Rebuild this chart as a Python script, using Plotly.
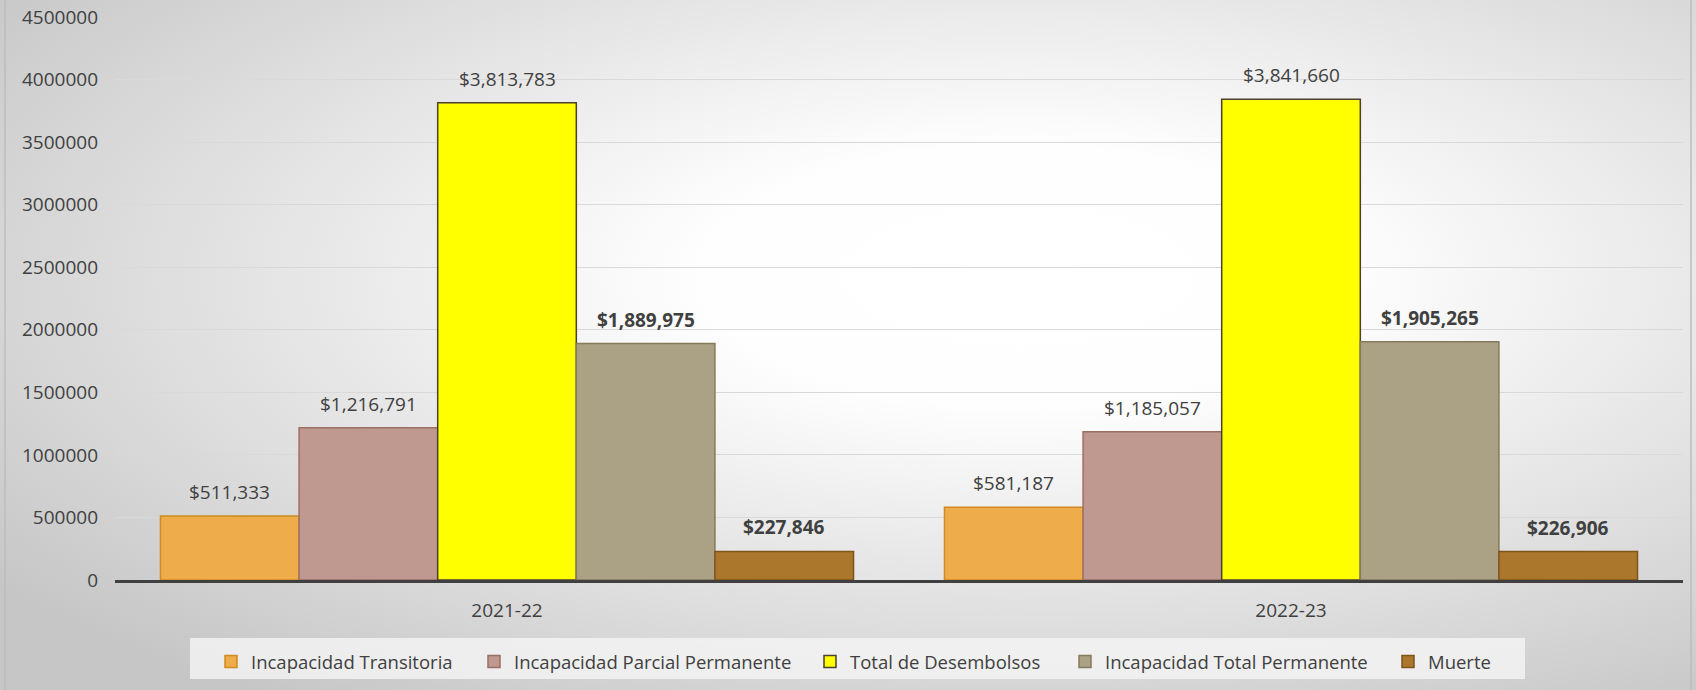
import base64
import plotly.graph_objects as go

categories = ["2021-22", "2022-23"]
series_names = [
    "Incapacidad Transitoria",
    "Incapacidad Parcial Permanente",
    "Total de Desembolsos",
    "Incapacidad Total Permanente",
    "Muerte",
]
transitoria = [511333, 581187]
parcial = [1216791, 1185057]
total_desembolsos = [3813783, 3841660]
total_permanente = [1889975, 1905265]
muerte = [227846, 226906]
y_ticks = [0, 500000, 1000000, 1500000, 2000000, 2500000, 3000000, 3500000, 4000000, 4500000]

series_values = [transitoria, parcial, total_desembolsos, total_permanente, muerte]
fills = ["#EEAC4A", "#BF9990", "#FFFF00", "#ABA286", "#AB772C"]
borders = ["#D08A22", "#9C6E64", "#4A3F30", "#857A5A", "#7F5418"]
bold = [False, False, False, True, True]
legend_text_x = [251, 514, 850, 1105, 1428]  # pixel x where each legend label starts

W, H = 1696, 690
ML, MR, MT, MB = 115, 13, 17, 110
PW, PH = W - ML - MR, H - MT - MB
BARGAP = 0.116
n = len(series_values)
bar_px = PW / len(categories) * (1 - BARGAP) / n

fig = go.Figure()
annotations = []
legends = {}
for i, (name, vals, fc, bc, b) in enumerate(zip(series_names, series_values, fills, borders, bold)):
    lid = "legend" if i == 0 else f"legend{i + 1}"
    fig.add_trace(go.Bar(
        x=categories, y=vals, name=name, legend=lid,
        marker=dict(color=fc, line=dict(color=bc, width=1.5)),
    ))
    legends[lid] = dict(
        orientation="h", xref="container", yref="container",
        x=(legend_text_x[i] - 40) / W, xanchor="left",
        y=1 - 662 / H, yanchor="middle",
        bgcolor="rgba(0,0,0,0)", font=dict(size=18.5, color="#404040"),
        itemwidth=30,
    )
    for c, v in zip(categories, vals):
        txt = ("<b>${:,.0f}</b>" if b else "${:,.0f}").format(v)
        annotations.append(dict(
            x=c, y=v, xref="x", yref="y", text=txt, showarrow=False,
            xanchor="center", yanchor="bottom", yshift=9,
            xshift=(i - (n - 1) / 2) * bar_px,
            font=dict(size=19, color="#404040", family="Open Sans"),
        ))

svg = (
    f'<svg xmlns="http://www.w3.org/2000/svg" width="{W}" height="{H}">'
    '<defs><radialGradient id="g" cx="0.6" cy="0.4" r="0.75">'
    '<stop offset="0" stop-color="#ffffff"/>'
    '<stop offset="0.25" stop-color="#fefefe"/>'
    '<stop offset="1" stop-color="#c6c6c6"/>'
    '</radialGradient></defs>'
    f'<rect x="0" y="0" width="{W}" height="{H}" fill="url(#g)"/>'
    f'<rect x="5" y="-2" width="{W-10}" height="{H+4}" fill="none" stroke="#bdbdbd" stroke-width="1.5"/>'
    '</svg>'
)
src = "data:image/svg+xml;base64," + base64.b64encode(svg.encode()).decode()

fig.update_layout(
    width=W, height=H,
    margin=dict(l=ML, r=MR, t=MT, b=MB, pad=0, autoexpand=False),
    barmode="group", bargap=BARGAP, bargroupgap=0,
    paper_bgcolor="#d9d9d9", plot_bgcolor="rgba(0,0,0,0)",
    font=dict(family="Open Sans", size=18, color="#404040"),
    showlegend=True,
    annotations=annotations,
    shapes=[dict(
        type="rect", xref="paper", yref="paper", layer="below",
        x0=(190 - ML) / PW, x1=(1525 - ML) / PW,
        y0=-(679 - MT - PH) / PH, y1=-(638 - MT - PH) / PH,
        fillcolor="rgba(245,245,245,0.8)", line=dict(width=0),
    )],
    images=[dict(
        source=src, xref="paper", yref="paper",
        x=-ML / PW, y=1 + MT / PH, sizex=W / PW, sizey=H / PH,
        xanchor="left", yanchor="top", sizing="stretch", layer="below",
    )],
    xaxis=dict(
        showgrid=False, showline=True, linecolor="#404040", linewidth=3,
        ticks="", tickfont=dict(size=19, color="#404040"), ticklabelstandoff=11,
        automargin=False,
    ),
    yaxis=dict(
        range=[0, 4500000], tickvals=y_ticks, tickformat="d",
        showgrid=True, gridcolor="#d9d9d9", gridwidth=1.2,
        zeroline=False, showline=False, ticks="",
        tickfont=dict(size=19, color="#404040"), ticklabelstandoff=16,
        automargin=False,
    ),
    **legends,
)

fig.write_html(
    "out.html",
    config={"displayModeBar": False},
    post_script="document.body.style.margin='0';",
)
